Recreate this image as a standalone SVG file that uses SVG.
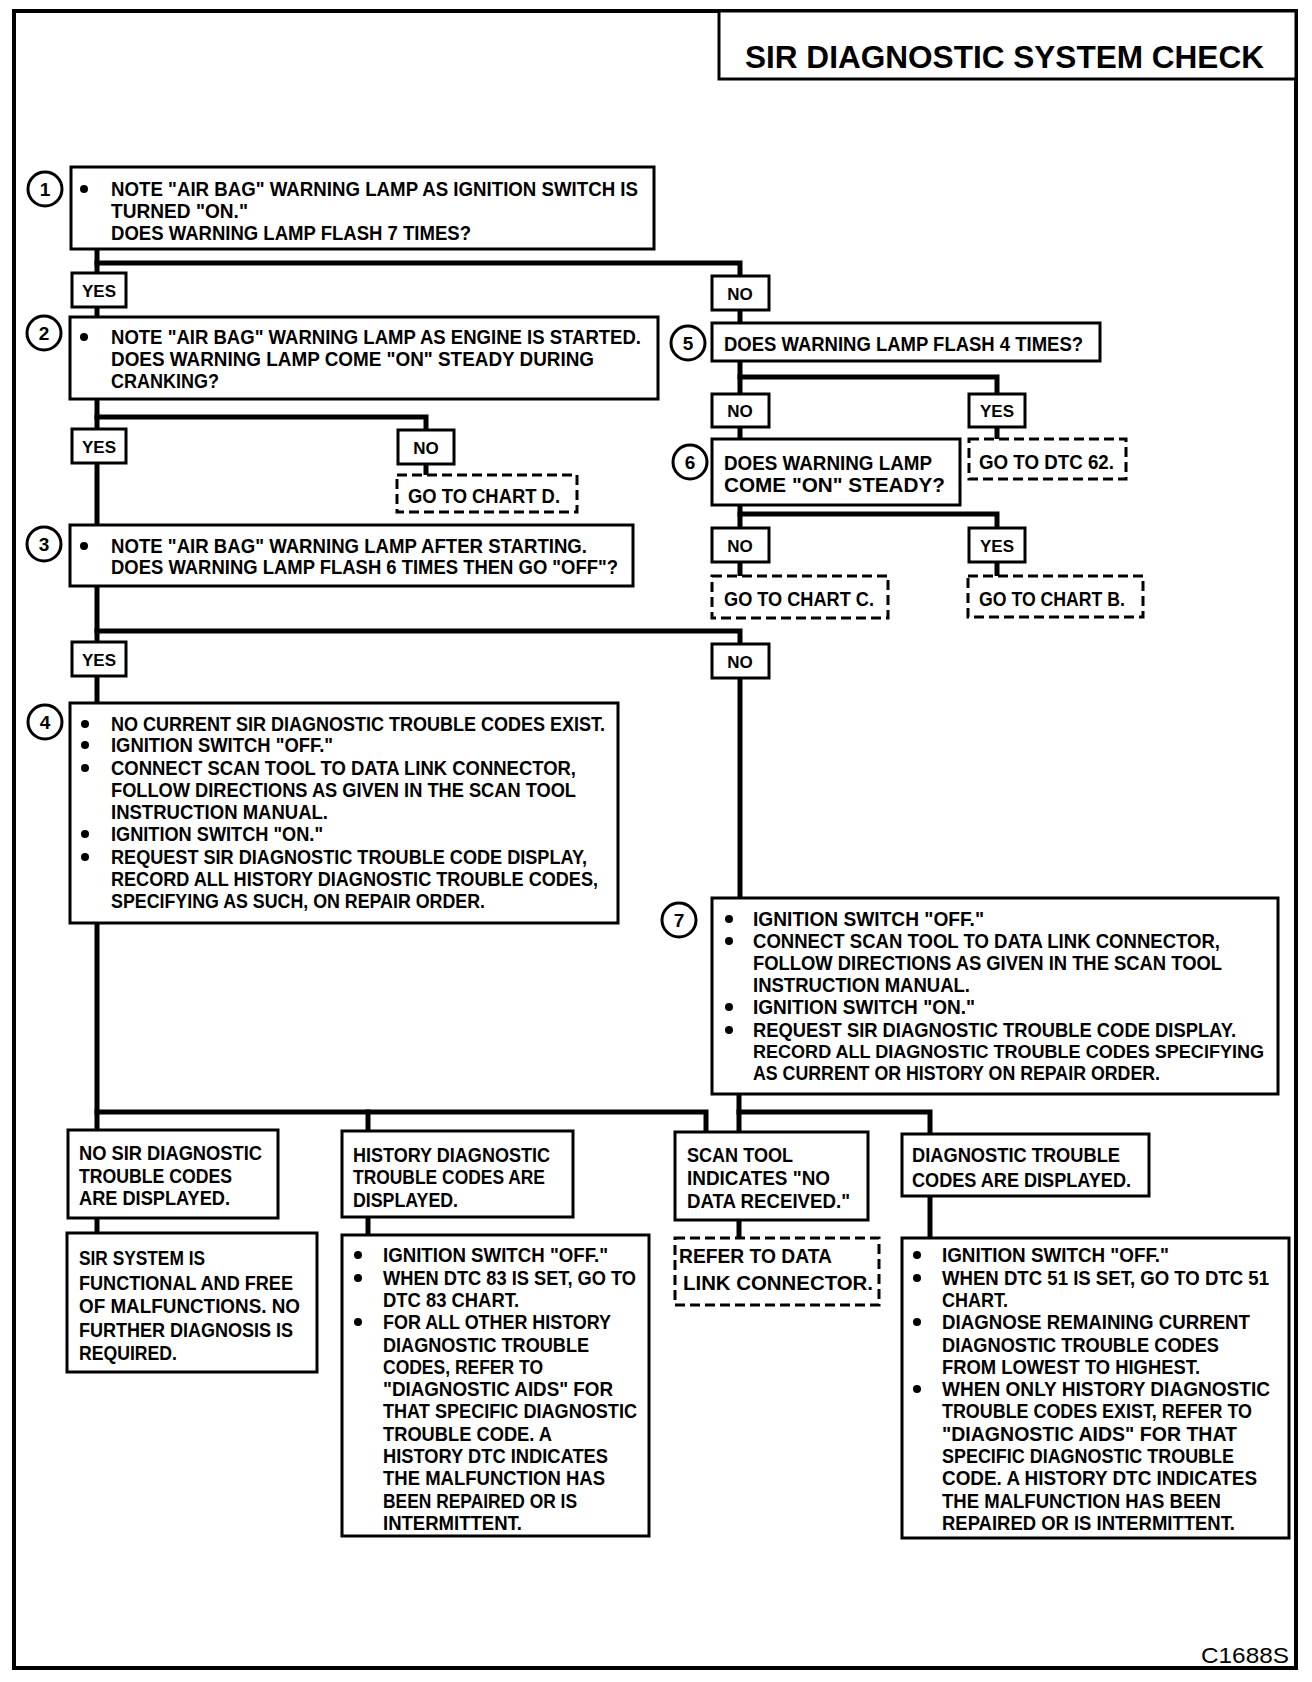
<svg xmlns="http://www.w3.org/2000/svg" width="1312" height="1682" viewBox="0 0 1312 1682">
<style>
text{font-family:"Liberation Sans",Arial,sans-serif;font-weight:bold;font-size:20px;fill:#000}
.yn{font-size:17px;text-anchor:middle}
.n{font-size:19px;text-anchor:middle}
.ttl{font-size:31px}
.code{font-weight:normal;font-size:22px}
.sm{font-size:18px}
.box,.lbl{fill:#fff;stroke:#000;stroke-width:3}
.dash{fill:#fff;stroke:#000;stroke-width:3;stroke-dasharray:10 5}
.conn path{stroke:#000;stroke-width:5;fill:none;stroke-linecap:square;stroke-linejoin:miter}
.num{fill:#fff;stroke:#000;stroke-width:3}
.frame{fill:none;stroke:#000;stroke-width:4}
</style>
<rect x="0" y="0" width="1312" height="1682" fill="#fff"/>
<rect class="frame" x="14" y="11" width="1282" height="1657"/>
<g id="title">
<rect class="box" x="719" y="11" width="577" height="68"/>
<text class="ttl" x="745" y="68" textLength="519" lengthAdjust="spacingAndGlyphs">SIR DIAGNOSTIC SYSTEM CHECK</text>
</g>

<g id="connectors" class="conn">
<path d="M97 249V317"/>
<path d="M97 263H740V323"/>
<path d="M97 399V525"/>
<path d="M97 417H426V475"/>
<path d="M97 586V703"/>
<path d="M97 631H740V898"/>
<path d="M740 361V439"/>
<path d="M740 377H997V439"/>
<path d="M740 505V576"/>
<path d="M740 514H997V576"/>
<path d="M97 923V1130"/>
<path d="M97 1112H706V1132"/>
<path d="M368 1112V1131"/>
<path d="M97 1218V1233"/>
<path d="M368 1217V1235"/>
<path d="M739 1094V1132"/>
<path d="M739 1112H930V1134"/>
<path d="M739 1220V1238"/>
<path d="M930 1196V1238"/>
</g>

<g id="step1">
<circle class="num" cx="45" cy="189" r="17"/><text class="n" x="45" y="196">1</text>
<rect class="box" x="71" y="167" width="583" height="82"/>
<circle cx="84" cy="189" r="4"/>
<text x="111" y="196" textLength="527" lengthAdjust="spacingAndGlyphs">NOTE "AIR BAG" WARNING LAMP AS IGNITION SWITCH IS</text>
<text x="111" y="218" textLength="137" lengthAdjust="spacingAndGlyphs">TURNED "ON."</text>
<text x="111" y="240" textLength="360" lengthAdjust="spacingAndGlyphs">DOES WARNING LAMP FLASH 7 TIMES?</text>
</g>
<g id="yes1"><rect class="lbl" x="72" y="273" width="54" height="34"/><text class="yn" x="99" y="297">YES</text></g>
<g id="no1"><rect class="lbl" x="712" y="276" width="57" height="34"/><text class="yn" x="740" y="300">NO</text></g>

<g id="step2">
<circle class="num" cx="44" cy="333" r="17"/><text class="n" x="44" y="340">2</text>
<rect class="box" x="70" y="317" width="588" height="82"/>
<circle cx="84" cy="337" r="4"/>
<text x="111" y="344" textLength="530" lengthAdjust="spacingAndGlyphs">NOTE "AIR BAG" WARNING LAMP AS ENGINE IS STARTED.</text>
<text x="111" y="366" textLength="483" lengthAdjust="spacingAndGlyphs">DOES WARNING LAMP COME "ON" STEADY DURING</text>
<text x="111" y="388" textLength="108" lengthAdjust="spacingAndGlyphs">CRANKING?</text>
</g>
<g id="yes2"><rect class="lbl" x="72" y="429" width="54" height="34"/><text class="yn" x="99" y="453">YES</text></g>
<g id="no2"><rect class="lbl" x="398" y="430" width="56" height="34"/><text class="yn" x="426" y="454">NO</text></g>
<g id="chartD">
<rect class="dash" x="397" y="475" width="180" height="37"/>
<text x="408" y="503" textLength="152" lengthAdjust="spacingAndGlyphs">GO TO CHART D.</text>
</g>

<g id="step3">
<circle class="num" cx="44" cy="544" r="17"/><text class="n" x="44" y="551">3</text>
<rect class="box" x="70" y="525" width="563" height="61"/>
<circle cx="84" cy="546" r="4"/>
<text x="111" y="553" textLength="476" lengthAdjust="spacingAndGlyphs">NOTE "AIR BAG" WARNING LAMP AFTER STARTING.</text>
<text x="111" y="574" textLength="507" lengthAdjust="spacingAndGlyphs">DOES WARNING LAMP FLASH 6 TIMES THEN GO "OFF"?</text>
</g>
<g id="yes3"><rect class="lbl" x="72" y="642" width="54" height="34"/><text class="yn" x="99" y="666">YES</text></g>
<g id="no3"><rect class="lbl" x="712" y="644" width="57" height="34"/><text class="yn" x="740" y="668">NO</text></g>

<g id="step4">
<circle class="num" cx="45" cy="722" r="17"/><text class="n" x="45" y="729">4</text>
<rect class="box" x="70" y="703" width="548" height="220"/>
<circle cx="85" cy="724" r="4"/><circle cx="85" cy="745" r="4"/><circle cx="85" cy="768" r="4"/><circle cx="85" cy="834" r="4"/><circle cx="85" cy="857" r="4"/>
<text x="111" y="731" textLength="494" lengthAdjust="spacingAndGlyphs">NO CURRENT SIR DIAGNOSTIC TROUBLE CODES EXIST.</text>
<text x="111" y="752" textLength="222" lengthAdjust="spacingAndGlyphs">IGNITION SWITCH "OFF."</text>
<text x="111" y="775" textLength="465" lengthAdjust="spacingAndGlyphs">CONNECT SCAN TOOL TO DATA LINK CONNECTOR,</text>
<text x="111" y="797" textLength="465" lengthAdjust="spacingAndGlyphs">FOLLOW DIRECTIONS AS GIVEN IN THE SCAN TOOL</text>
<text x="111" y="819" textLength="217" lengthAdjust="spacingAndGlyphs">INSTRUCTION MANUAL.</text>
<text x="111" y="841" textLength="212" lengthAdjust="spacingAndGlyphs">IGNITION SWITCH "ON."</text>
<text x="111" y="864" textLength="476" lengthAdjust="spacingAndGlyphs">REQUEST SIR DIAGNOSTIC TROUBLE CODE DISPLAY,</text>
<text x="111" y="886" textLength="487" lengthAdjust="spacingAndGlyphs">RECORD ALL HISTORY DIAGNOSTIC TROUBLE CODES,</text>
<text x="111" y="908" textLength="374" lengthAdjust="spacingAndGlyphs">SPECIFYING AS SUCH, ON REPAIR ORDER.</text>
</g>

<g id="step5">
<circle class="num" cx="688" cy="343" r="17"/><text class="n" x="688" y="350">5</text>
<rect class="box" x="712" y="323" width="388" height="38"/>
<text x="724" y="351" textLength="359" lengthAdjust="spacingAndGlyphs">DOES WARNING LAMP FLASH 4 TIMES?</text>
</g>
<g id="no5"><rect class="lbl" x="712" y="394" width="57" height="33"/><text class="yn" x="740" y="417">NO</text></g>
<g id="yes5"><rect class="lbl" x="969" y="394" width="56" height="33"/><text class="yn" x="997" y="417">YES</text></g>
<g id="dtc62">
<rect class="dash" x="969" y="439" width="157" height="40"/>
<text x="979" y="469" textLength="135" lengthAdjust="spacingAndGlyphs">GO TO DTC 62.</text>
</g>

<g id="step6">
<circle class="num" cx="690" cy="462" r="17"/><text class="n" x="690" y="469">6</text>
<rect class="box" x="712" y="439" width="248" height="66"/>
<text x="724" y="470" textLength="208" lengthAdjust="spacingAndGlyphs">DOES WARNING LAMP</text>
<text x="724" y="492" textLength="221" lengthAdjust="spacingAndGlyphs">COME "ON" STEADY?</text>
</g>
<g id="no6"><rect class="lbl" x="712" y="528" width="57" height="34"/><text class="yn" x="740" y="552">NO</text></g>
<g id="yes6"><rect class="lbl" x="969" y="528" width="56" height="34"/><text class="yn" x="997" y="552">YES</text></g>
<g id="chartC">
<rect class="dash" x="712" y="576" width="176" height="42"/>
<text x="724" y="606" textLength="150" lengthAdjust="spacingAndGlyphs">GO TO CHART C.</text>
</g>
<g id="chartB">
<rect class="dash" x="968" y="576" width="175" height="41"/>
<text x="979" y="606" textLength="146" lengthAdjust="spacingAndGlyphs">GO TO CHART B.</text>
</g>

<g id="step7">
<circle class="num" cx="679" cy="920" r="17"/><text class="n" x="679" y="927">7</text>
<rect class="box" x="712" y="898" width="566" height="196"/>
<circle cx="729" cy="919" r="4"/><circle cx="729" cy="941" r="4"/><circle cx="729" cy="1007" r="4"/><circle cx="729" cy="1030" r="4"/>
<text x="753" y="926" textLength="231" lengthAdjust="spacingAndGlyphs">IGNITION SWITCH "OFF."</text>
<text x="753" y="948" textLength="467" lengthAdjust="spacingAndGlyphs">CONNECT SCAN TOOL TO DATA LINK CONNECTOR,</text>
<text x="753" y="970" textLength="469" lengthAdjust="spacingAndGlyphs">FOLLOW DIRECTIONS AS GIVEN IN THE SCAN TOOL</text>
<text x="753" y="992" textLength="217" lengthAdjust="spacingAndGlyphs">INSTRUCTION MANUAL.</text>
<text x="753" y="1014" textLength="222" lengthAdjust="spacingAndGlyphs">IGNITION SWITCH "ON."</text>
<text x="753" y="1037" textLength="483" lengthAdjust="spacingAndGlyphs">REQUEST SIR DIAGNOSTIC TROUBLE CODE DISPLAY.</text>
<text class="sm" x="753" y="1058" textLength="511" lengthAdjust="spacingAndGlyphs">RECORD ALL DIAGNOSTIC TROUBLE CODES SPECIFYING</text>
<text x="753" y="1080" textLength="407" lengthAdjust="spacingAndGlyphs">AS CURRENT OR HISTORY ON REPAIR ORDER.</text>
</g>

<g id="noCodes">
<rect class="box" x="68" y="1130" width="210" height="88"/>
<text x="79" y="1160" textLength="183" lengthAdjust="spacingAndGlyphs">NO SIR DIAGNOSTIC</text>
<text x="79" y="1183" textLength="153" lengthAdjust="spacingAndGlyphs">TROUBLE CODES</text>
<text x="79" y="1205" textLength="151" lengthAdjust="spacingAndGlyphs">ARE DISPLAYED.</text>
</g>
<g id="functional">
<rect class="box" x="67" y="1233" width="250" height="139"/>
<text x="79" y="1265" textLength="126" lengthAdjust="spacingAndGlyphs">SIR SYSTEM IS</text>
<text x="79" y="1290" textLength="214" lengthAdjust="spacingAndGlyphs">FUNCTIONAL AND FREE</text>
<text x="79" y="1313" textLength="221" lengthAdjust="spacingAndGlyphs">OF MALFUNCTIONS.  NO</text>
<text x="79" y="1337" textLength="214" lengthAdjust="spacingAndGlyphs">FURTHER DIAGNOSIS IS</text>
<text x="79" y="1360" textLength="98" lengthAdjust="spacingAndGlyphs">REQUIRED.</text>
</g>

<g id="historyCodes">
<rect class="box" x="342" y="1131" width="231" height="86"/>
<text x="353" y="1162" textLength="197" lengthAdjust="spacingAndGlyphs">HISTORY DIAGNOSTIC</text>
<text x="353" y="1184" textLength="192" lengthAdjust="spacingAndGlyphs">TROUBLE CODES ARE</text>
<text x="353" y="1207" textLength="105" lengthAdjust="spacingAndGlyphs">DISPLAYED.</text>
</g>
<g id="historySteps">
<rect class="box" x="342" y="1235" width="307" height="301"/>
<circle cx="358" cy="1255" r="4"/><circle cx="358" cy="1278" r="4"/><circle cx="358" cy="1322" r="4"/>
<text x="383" y="1262" textLength="225" lengthAdjust="spacingAndGlyphs">IGNITION SWITCH "OFF."</text>
<text x="383" y="1285" textLength="253" lengthAdjust="spacingAndGlyphs">WHEN DTC 83 IS SET, GO TO</text>
<text x="383" y="1307" textLength="136" lengthAdjust="spacingAndGlyphs">DTC 83 CHART.</text>
<text x="383" y="1329" textLength="228" lengthAdjust="spacingAndGlyphs">FOR ALL OTHER HISTORY</text>
<text x="383" y="1352" textLength="206" lengthAdjust="spacingAndGlyphs">DIAGNOSTIC TROUBLE</text>
<text x="383" y="1374" textLength="160" lengthAdjust="spacingAndGlyphs">CODES, REFER TO</text>
<text x="383" y="1396" textLength="230" lengthAdjust="spacingAndGlyphs">"DIAGNOSTIC AIDS" FOR</text>
<text x="383" y="1418" textLength="254" lengthAdjust="spacingAndGlyphs">THAT SPECIFIC DIAGNOSTIC</text>
<text x="383" y="1441" textLength="169" lengthAdjust="spacingAndGlyphs">TROUBLE CODE.  A</text>
<text x="383" y="1463" textLength="225" lengthAdjust="spacingAndGlyphs">HISTORY DTC INDICATES</text>
<text x="383" y="1485" textLength="222" lengthAdjust="spacingAndGlyphs">THE MALFUNCTION HAS</text>
<text x="383" y="1508" textLength="194" lengthAdjust="spacingAndGlyphs">BEEN REPAIRED OR IS</text>
<text x="383" y="1530" textLength="139" lengthAdjust="spacingAndGlyphs">INTERMITTENT.</text>
</g>

<g id="noData">
<rect class="box" x="675" y="1132" width="193" height="88"/>
<text x="687" y="1162" textLength="106" lengthAdjust="spacingAndGlyphs">SCAN TOOL</text>
<text x="687" y="1185" textLength="143" lengthAdjust="spacingAndGlyphs">INDICATES "NO</text>
<text x="687" y="1208" textLength="163" lengthAdjust="spacingAndGlyphs">DATA RECEIVED."</text>
</g>
<g id="dataLink">
<rect class="dash" x="675" y="1238" width="204" height="67"/>
<text x="679" y="1263" textLength="153" lengthAdjust="spacingAndGlyphs">REFER TO DATA</text>
<text x="683" y="1290" textLength="190" lengthAdjust="spacingAndGlyphs">LINK CONNECTOR.</text>
</g>

<g id="codesDisplayed">
<rect class="box" x="902" y="1134" width="247" height="62"/>
<text x="912" y="1162" textLength="208" lengthAdjust="spacingAndGlyphs">DIAGNOSTIC TROUBLE</text>
<text x="912" y="1187" textLength="219" lengthAdjust="spacingAndGlyphs">CODES ARE DISPLAYED.</text>
</g>
<g id="codesSteps">
<rect class="box" x="902" y="1238" width="387" height="300"/>
<circle cx="917" cy="1255" r="4"/><circle cx="917" cy="1278" r="4"/><circle cx="917" cy="1322" r="4"/><circle cx="917" cy="1389" r="4"/>
<text x="942" y="1262" textLength="227" lengthAdjust="spacingAndGlyphs">IGNITION SWITCH "OFF."</text>
<text x="942" y="1285" textLength="327" lengthAdjust="spacingAndGlyphs">WHEN DTC 51 IS SET, GO TO DTC 51</text>
<text x="942" y="1307" textLength="66" lengthAdjust="spacingAndGlyphs">CHART.</text>
<text x="942" y="1329" textLength="308" lengthAdjust="spacingAndGlyphs">DIAGNOSE REMAINING CURRENT</text>
<text x="942" y="1352" textLength="277" lengthAdjust="spacingAndGlyphs">DIAGNOSTIC TROUBLE CODES</text>
<text x="942" y="1374" textLength="258" lengthAdjust="spacingAndGlyphs">FROM LOWEST TO HIGHEST.</text>
<text x="942" y="1396" textLength="328" lengthAdjust="spacingAndGlyphs">WHEN ONLY HISTORY DIAGNOSTIC</text>
<text x="942" y="1418" textLength="310" lengthAdjust="spacingAndGlyphs">TROUBLE CODES EXIST, REFER TO</text>
<text x="942" y="1441" textLength="295" lengthAdjust="spacingAndGlyphs">"DIAGNOSTIC AIDS" FOR THAT</text>
<text x="942" y="1463" textLength="292" lengthAdjust="spacingAndGlyphs">SPECIFIC DIAGNOSTIC TROUBLE</text>
<text x="942" y="1485" textLength="315" lengthAdjust="spacingAndGlyphs">CODE.  A HISTORY DTC INDICATES</text>
<text x="942" y="1508" textLength="279" lengthAdjust="spacingAndGlyphs">THE MALFUNCTION HAS BEEN</text>
<text x="942" y="1530" textLength="293" lengthAdjust="spacingAndGlyphs">REPAIRED OR IS INTERMITTENT.</text>
</g>

<text class="code" x="1201" y="1663" textLength="88" lengthAdjust="spacingAndGlyphs">C1688S</text>
</svg>
